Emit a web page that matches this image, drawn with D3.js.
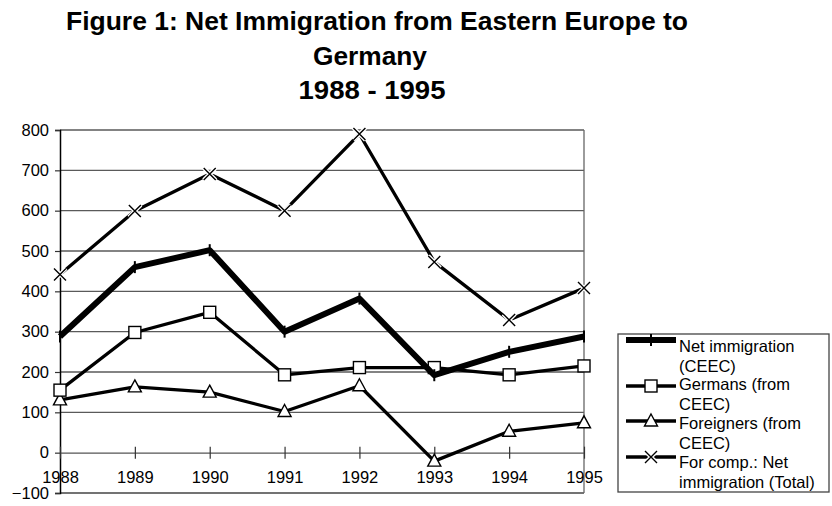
<!DOCTYPE html>
<html>
<head>
<meta charset="utf-8">
<script src="https://cdn.jsdelivr.net/npm/d3@7"></script>
<style>
  html, body { margin: 0; padding: 0; background: #fff; }
  svg { display: block; font-family: "Liberation Sans", Arial, sans-serif; }
</style>
</head>
<body>
<svg id="chart" width="832" height="506"></svg>
<script>
// Net immigration to Germany, thousands of persons
const years = [1988, 1989, 1990, 1991, 1992, 1993, 1994, 1995];
const netCEEC = [288, 460, 502, 300, 382, 192, 250, 288];
const germansCEEC = [155, 298, 348, 193, 211, 211, 193, 215];
const foreignersCEEC = [131, 163, 150, 102, 166, -21, 53, 74];
const netTotal = [442, 599, 691, 600, 790, 473, 329, 408];
const yTicks = [-100, 0, 100, 200, 300, 400, 500, 600, 700, 800];

const titleLines = [
  "Figure 1: Net Immigration from Eastern Europe to",
  "Germany",
  "1988 - 1995"
];

const series = [
  { name: ["Net immigration", "(CEEC)"], values: netCEEC, width: 6, marker: "dash" },
  { name: ["Germans (from", "CEEC)"], values: germansCEEC, width: 3.3, marker: "square" },
  { name: ["Foreigners (from", "CEEC)"], values: foreignersCEEC, width: 3.3, marker: "triangle" },
  { name: ["For comp.: Net", "immigration (Total)"], values: netTotal, width: 3.3, marker: "cross" }
];

const svg = d3.select("#chart");
const plot = { left: 60, right: 584, top: 130, bottom: 493 };

const x = d3.scalePoint().domain(years).range([plot.left, plot.right]);
const y = d3.scaleLinear().domain([-100, 800]).range([plot.bottom, plot.top]);

// Title: condensed bold lines
const title = svg.append("g").attr("font-weight", "bold").attr("fill", "#000")
  .attr("text-anchor", "middle");
[[30, 622, 377], [65, 114, 370], [99, 147, 372]].forEach(([base, len, cx], i) => {
  title.append("text")
    .attr("x", cx).attr("y", base)
    .attr("font-size", 25)
    .attr("textLength", len).attr("lengthAdjust", "spacingAndGlyphs")
    .text(titleLines[i]);
});

// Horizontal gridlines
svg.append("g").selectAll("line")
  .data(yTicks.filter(v => v !== 0 && v !== -100))
  .join("line")
  .attr("x1", plot.left).attr("x2", plot.right)
  .attr("y1", d => y(d)).attr("y2", d => y(d))
  .attr("stroke", "#5a5a5a").attr("stroke-width", 1.4);

// Frame: bottom and right edges
svg.append("line")
  .attr("x1", plot.left).attr("x2", plot.right)
  .attr("y1", y(-100)).attr("y2", y(-100))
  .attr("stroke", "#444").attr("stroke-width", 1.6);
svg.append("line")
  .attr("x1", plot.right).attr("x2", plot.right)
  .attr("y1", plot.top).attr("y2", plot.bottom)
  .attr("stroke", "#666").attr("stroke-width", 1.3);

// Y axis
const yAxis = svg.append("g")
  .attr("transform", `translate(${plot.left},0)`)
  .call(d3.axisLeft(y).tickValues(yTicks).tickSize(5).tickPadding(6).tickFormat(d3.format("d")));
yAxis.select(".domain").attr("stroke", "#000").attr("stroke-width", 1.5);
yAxis.selectAll(".tick line").attr("stroke", "#333").attr("stroke-width", 1.2);
yAxis.selectAll(".tick text").attr("font-size", 16.5).attr("fill", "#000")
  .attr("font-family", "Liberation Sans, Arial, sans-serif");

// X axis along the zero line
const xAxis = svg.append("g")
  .attr("transform", `translate(0,${y(0)})`)
  .call(d3.axisBottom(x).tickSizeInner(5).tickSizeOuter(0).tickPadding(6).tickFormat(d3.format("d")));
xAxis.select(".domain").attr("stroke", "#555").attr("stroke-width", 1.4);
xAxis.selectAll(".tick line").attr("y1", -6).attr("y2", 6)
  .attr("stroke", "#333").attr("stroke-width", 1.2);
xAxis.selectAll(".tick text").attr("font-size", 16.5).attr("fill", "#000")
  .attr("font-family", "Liberation Sans, Arial, sans-serif")
  .attr("y", 19).attr("dy", "0.71em");

// Marker drawing
function drawMarker(g, type, cx, cy) {
  if (type === "square") {
    g.append("rect").attr("x", cx - 6).attr("y", cy - 6).attr("width", 12).attr("height", 12)
      .attr("fill", "#fff").attr("stroke", "#000").attr("stroke-width", 1.4);
  } else if (type === "triangle") {
    g.append("path").attr("d", `M${cx},${cy - 7}L${cx + 6.5},${cy + 5}L${cx - 6.5},${cy + 5}Z`)
      .attr("fill", "#fff").attr("stroke", "#000").attr("stroke-width", 1.4);
  } else if (type === "cross") {
    g.append("path").attr("d", `M${cx - 6},${cy - 6}L${cx + 6},${cy + 6}M${cx + 6},${cy - 6}L${cx - 6},${cy + 6}`)
      .attr("stroke", "#fff").attr("stroke-width", 4);
    g.append("path").attr("d", `M${cx - 6},${cy - 6}L${cx + 6},${cy + 6}M${cx + 6},${cy - 6}L${cx - 6},${cy + 6}`)
      .attr("stroke", "#000").attr("stroke-width", 1.4);
  } else if (type === "dash") {
    g.append("line").attr("x1", cx).attr("x2", cx).attr("y1", cy - 6).attr("y2", cy + 6)
      .attr("stroke", "#000").attr("stroke-width", 2);
  }
}

// Series lines and markers
const line = d3.line().x((d, i) => x(years[i])).y(d => y(d));
const seriesG = svg.append("g");
series.slice().reverse().forEach(s => {
  const g = seriesG.append("g");
  g.append("path").datum(s.values).attr("d", line)
    .attr("fill", "none").attr("stroke", "#000")
    .attr("stroke-width", s.width).attr("stroke-linejoin", "round");
  s.values.forEach((v, i) => drawMarker(g, s.marker, x(years[i]), y(v)));
});

// Legend
const legend = svg.append("g");
legend.append("rect").attr("x", 618).attr("y", 334).attr("width", 211).attr("height", 158)
  .attr("fill", "#fff").attr("stroke", "#444").attr("stroke-width", 1.3);
const symY = [340, 386, 421, 457];
const textY = [352, 390, 429, 468];
series.forEach((s, i) => {
  const g = legend.append("g");
  g.append("line").attr("x1", 626).attr("x2", 676).attr("y1", symY[i]).attr("y2", symY[i])
    .attr("stroke", "#000").attr("stroke-width", s.width);
  drawMarker(g, s.marker, 651, symY[i]);
  s.name.forEach((t, j) => {
    g.append("text").attr("x", 679).attr("y", textY[i] + j * 19.5)
      .attr("font-size", 16.5).attr("fill", "#000").text(t);
  });
});
</script>
</body>
</html>
